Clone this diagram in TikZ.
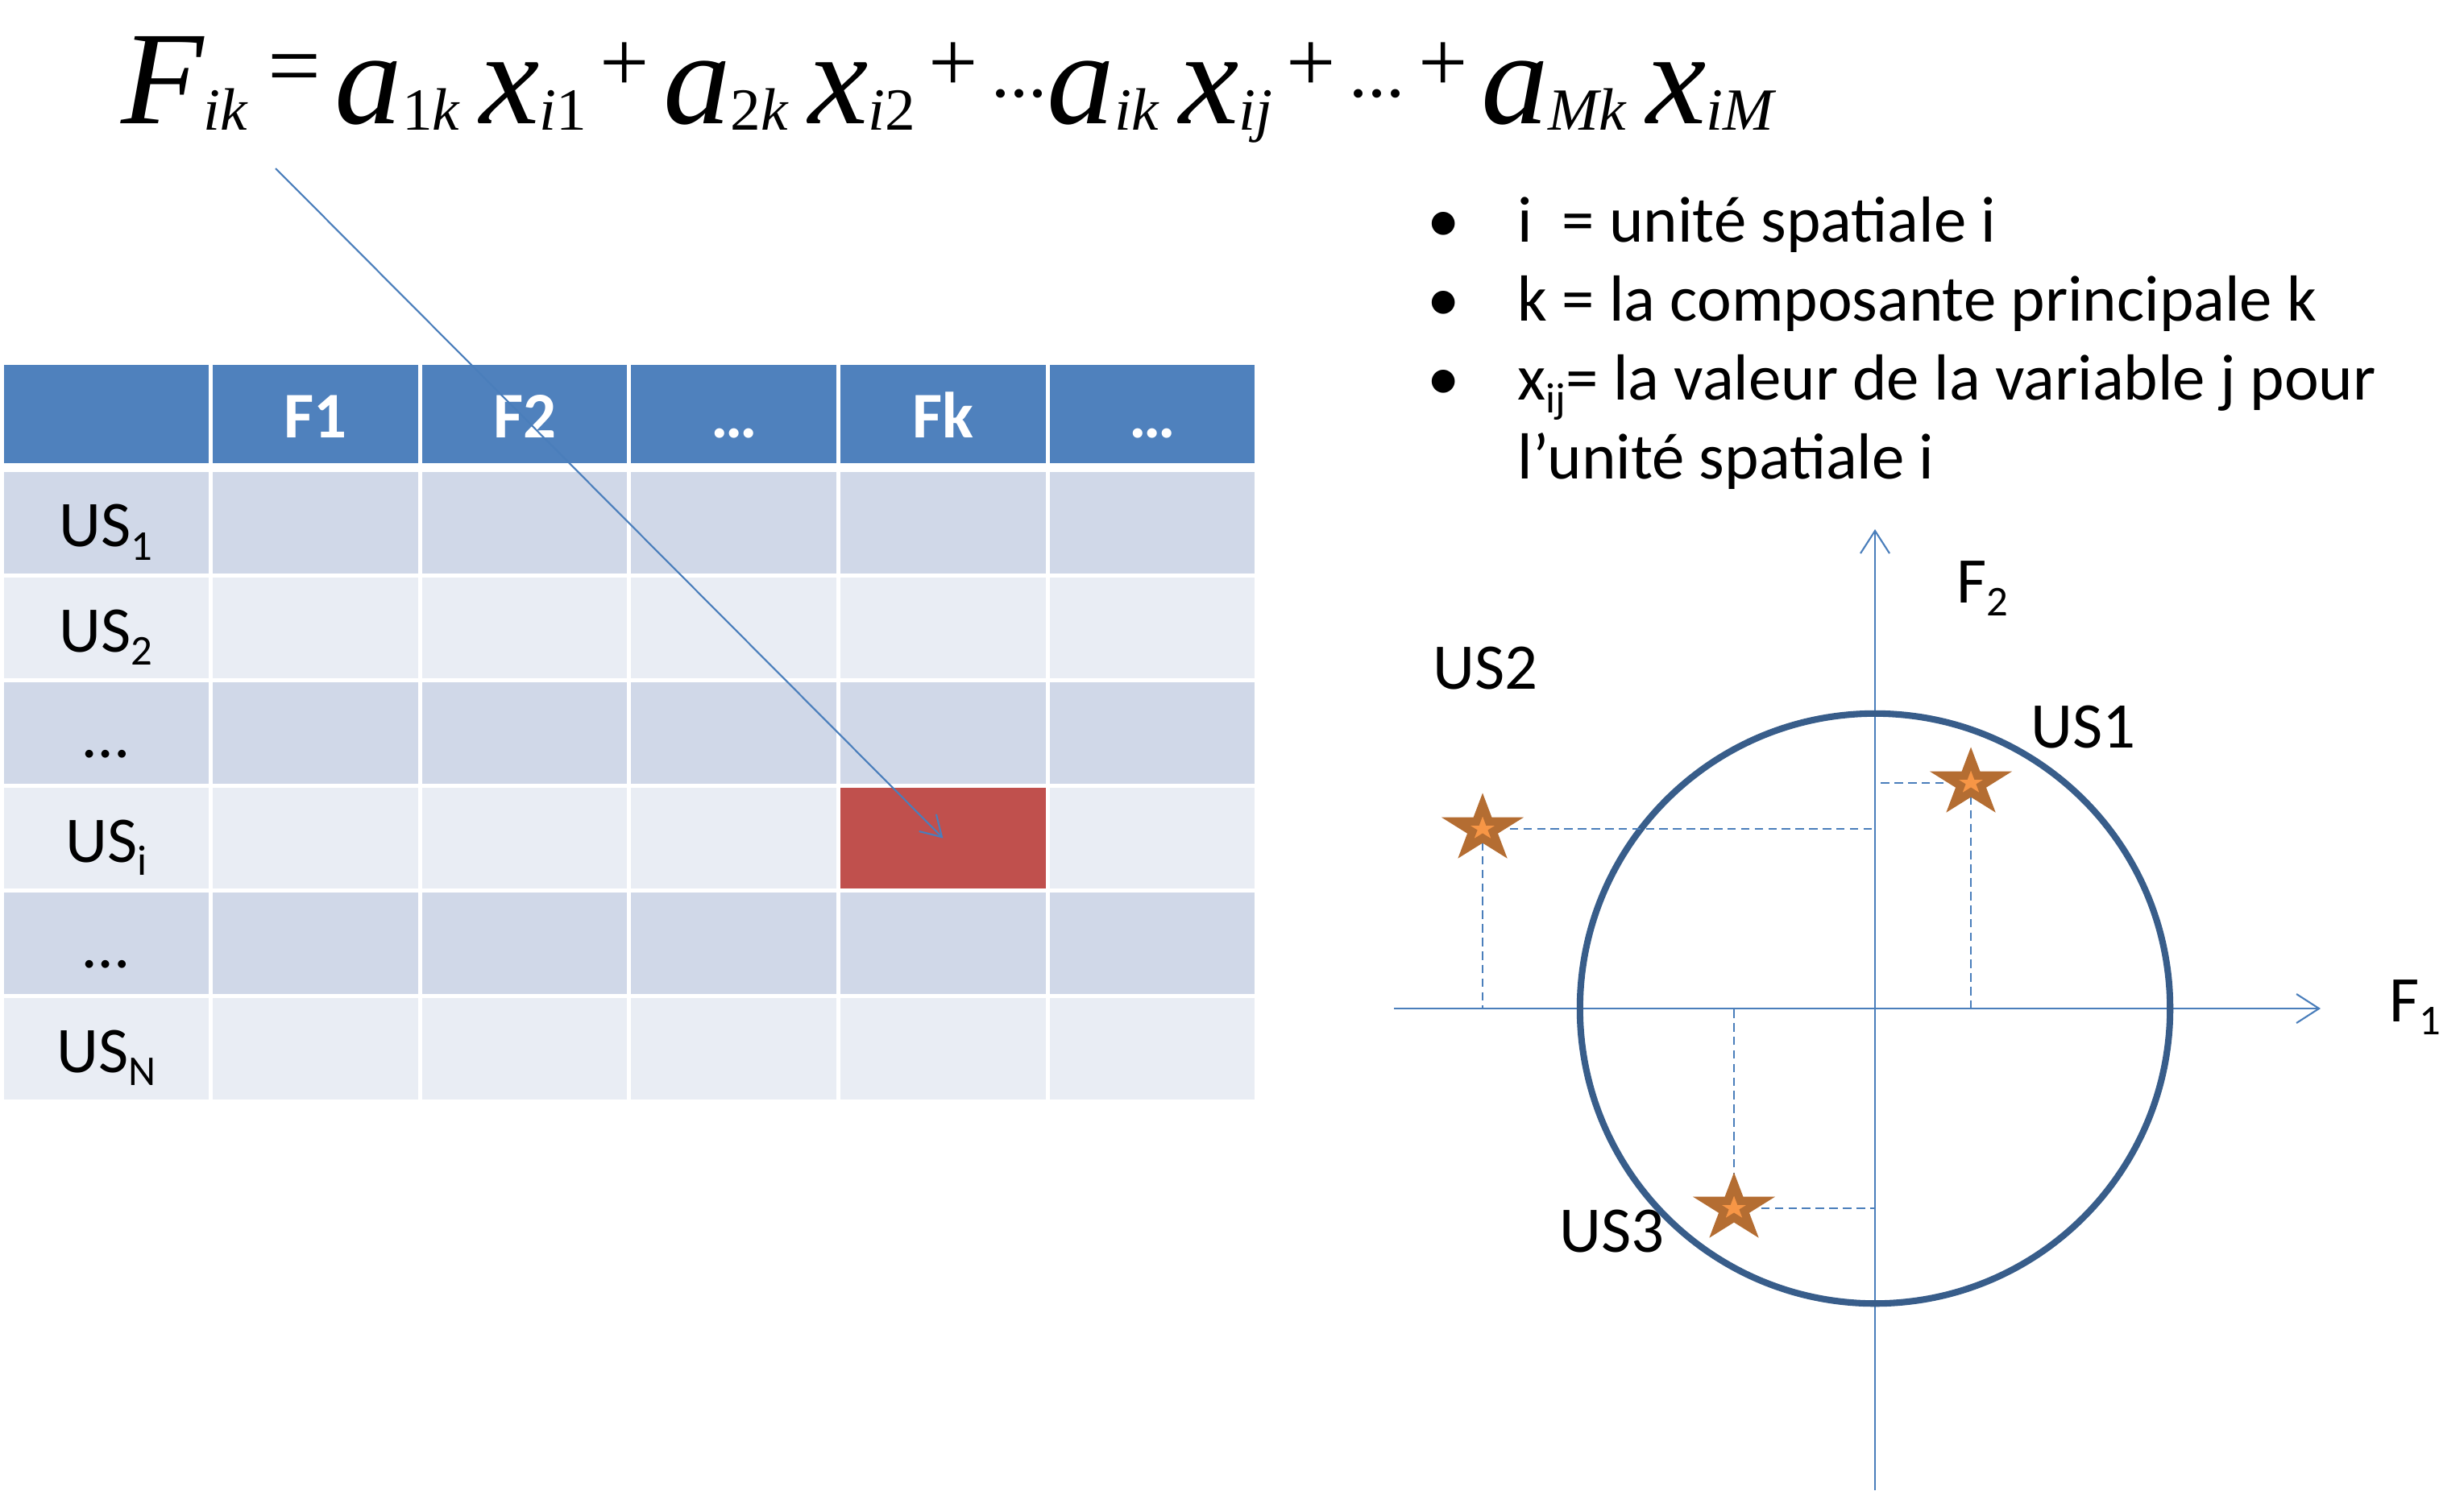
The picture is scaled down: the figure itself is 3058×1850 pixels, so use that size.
\documentclass[tikz,border=0pt]{standalone}
\usepackage{fontspec}
\setmainfont{Carlito}
\newfontfamily\eqfont{Liberation Serif}
\usetikzlibrary{shapes.geometric,positioning,arrows.meta,matrix}

\definecolor{hdrblue}{HTML}{4F81BD}
\definecolor{rowdark}{HTML}{D0D8E8}
\definecolor{rowlight}{HTML}{E9EDF4}
\definecolor{cellred}{HTML}{C0504D}
\definecolor{axisblue}{HTML}{4A7EBB}
\definecolor{circblue}{HTML}{385D8A}
\definecolor{starbrown}{HTML}{B46D32}
\definecolor{starorange}{HTML}{F79646}

\newcommand\bigfont{\fontsize{23}{27.6}\selectfont}
\newcommand\dsub[1]{\raisebox{-0.2em}{\fontsize{15}{18}\selectfont #1}}
% pieces of the formula
\newcommand\eqsub[1]{\raisebox{-0.05em}{\fontsize{4.5}{5}\selectfont #1}}
\newcommand\eqop[1]{\hspace{1pt}\raisebox{0.24em}{\fontsize{6.5}{7}\selectfont\upshape #1}\hspace{1pt}}
\newcommand\eqdots{\raisebox{0.2em}{\fontsize{5.5}{6}\selectfont\upshape ...}}

\tikzset{
  axis/.style={draw=axisblue, line width=0.6pt, -{Straight Barb[length=0.28cm, width=0.36cm]}},
  ptr/.style={draw=axisblue, line width=0.6pt, -{Straight Barb[length=0.25cm, width=0.3cm]}},
  proj/.style={draw=axisblue, line width=0.6pt, dash pattern=on 3pt off 1.8pt},
  ustar/.style={star, star points=5, star point ratio=2.618, minimum size=0.7cm, inner sep=0pt,
    yscale=0.86, fill=starorange, draw=starbrown, line width=2.9pt},
  lbl/.style={anchor=base west, inner sep=0pt, font=\bigfont},
}

\begin{document}
\begin{tikzpicture}[x=0.01cm, y=-0.01cm]
\useasboundingbox[fill=white] (0,0) rectangle (3058,1850);

% formula
\node[anchor=base west, inner sep=0pt] (formula) at (150,153) {\resizebox{20.49cm}{1.08cm}{%
  \eqfont\itshape\fontsize{10}{12}\selectfont
  F\eqsub{ik}\hspace{1.5pt}\raisebox{0.2em}{\fontsize{7}{8}\selectfont\upshape =}\hspace{1pt}%
  a\eqsub{{\upshape1}k}\hspace{1.5pt}x\eqsub{i{\upshape1}}\eqop{+}%
  a\eqsub{{\upshape2}k}\hspace{1.5pt}x\eqsub{i{\upshape2}}\eqop{+}\eqdots
  a\eqsub{ik}\hspace{1.5pt}x\eqsub{ij}\eqop{+}\eqdots\eqop{+}%
  a\eqsub{Mk}\hspace{1.5pt}x\eqsub{iM}}};
\coordinate (fik) at (342,209);

% table
\matrix (tab) [matrix of nodes, nodes in empty cells, anchor=north west, inner sep=0pt, outer sep=0pt,
  column sep=0pt, row sep=0pt,
  nodes={rectangle, anchor=center, draw=white, line width=0.025cm, minimum width=2.57cm, minimum height=1.28cm,
    inner sep=0pt, text height=0.62cm, text depth=0.02cm, font=\bigfont},
  row 1/.style={nodes={fill=hdrblue, text=white, font=\bigfont\bfseries, minimum height=1.25cm}},
  row 2/.style={nodes={fill=rowdark}}, row 3/.style={nodes={fill=rowlight}},
  row 4/.style={nodes={fill=rowdark}}, row 5/.style={nodes={fill=rowlight}},
  row 6/.style={nodes={fill=rowdark}}, row 7/.style={nodes={fill=rowlight}}] at (2,450) {
          & F1 & F2 & … & Fk & … \\[0.06cm]
  US\dsub{1} & & & & & \\
  US\dsub{2} & & & & & \\
  …        & & & & & \\
  US\dsub{i} & & & & |[fill=cellred]| & \\
  …        & & & & & \\
  US\dsub{N} & & & & & \\
};
\draw[ptr] (fik) -- (tab-5-5.center);

% legend
\node[lbl] (dot1) at (1771,300) {•};
\node[lbl] (item1) at (1883,300) {i\ \ = unité spatiale i};
\node[lbl] (dot2) at (1771,398) {•};
\node[lbl] (item2) at (1883,398) {k = la composante principale k};
\node[lbl] (dot3) at (1771,496) {•};
\node[lbl] (item3) at (1883,496) {x\dsub{ij}= la valeur de la variable j pour};
\node[lbl] (item4) at (1883,594) {l’unité spatiale i};

% factor plane
\coordinate (origin) at (2327,1252);
\coordinate (f1start) at (1730,1252);
\coordinate (f1end) at (2880,1252);
\coordinate (f2start) at (2327,1850);
\coordinate (f2end) at (2327,657);
\draw[axis] (f1start) -- (f1end);
\draw[axis] (f2start) -- (f2end);
\draw[circblue, line width=2.3pt] (origin) circle[radius=3.66cm];

\coordinate (us1) at (2446,972);
\coordinate (us2) at (1840,1029);
\coordinate (us3) at (2152,1500);
\draw[proj] (us1) -- (us1 |- origin);
\draw[proj] (us1) -- (us1 -| origin);
\draw[proj] (us2) -- (us2 |- origin);
\draw[proj] (us2) -- (us2 -| origin);
\draw[proj] (us3) -- (us3 |- origin);
\draw[proj] (us3) -- (us3 -| origin);
\node[ustar] (us1star) at (us1) {};
\node[ustar] (us2star) at (us2) {};
\node[ustar] (us3star) at (us3) {};

\node[lbl] (us1lbl) at (2520,928) {US1};
\node[lbl] (us2lbl) at (1778,855) {US2};
\node[lbl] (us3lbl) at (1935,1554) {US3};
\node[lbl] (f2lbl) at (2428,748) {F\dsub{2}};
\node[lbl] (f1lbl) at (2965,1268) {F\dsub{1}};
\end{tikzpicture}
\end{document}
